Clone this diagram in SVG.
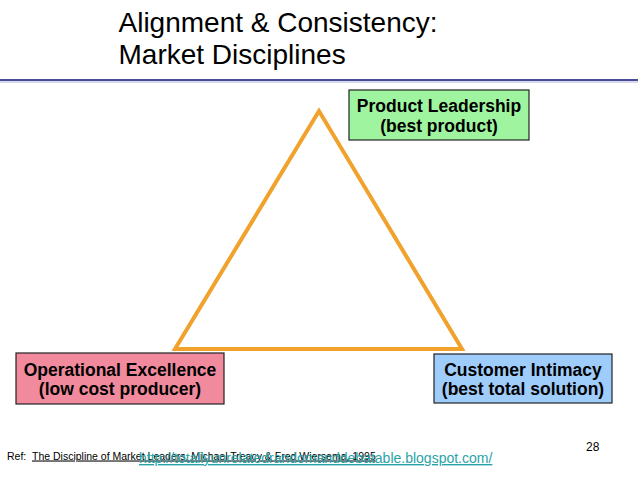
<svg xmlns="http://www.w3.org/2000/svg" width="638" height="479" viewBox="0 0 638 479">
<style>
.title{font-family:"Liberation Sans",Arial,sans-serif;font-size:28px;fill:#000}
.box{stroke:#222;stroke-width:1.2}
.lbl{font-family:"Liberation Sans",Arial,sans-serif;font-size:17.5px;font-weight:bold;fill:#000;text-anchor:middle}
.small{font-family:"Liberation Sans",Arial,sans-serif;font-size:10.5px;fill:#000}
.url{font-family:"Liberation Sans",Arial,sans-serif;font-size:14px;fill:#2aa3a8;text-decoration:underline}
</style>
<rect width="638" height="479" fill="#ffffff"/>
<g id="title">
<text class="title" x="118.5" y="32">Alignment &amp; Consistency:</text>
<text class="title" x="118.5" y="64">Market Disciplines</text>
</g>
<g id="rule">
<line x1="0" y1="80" x2="638" y2="80" stroke="#4a4a96" stroke-width="2"/>
<line x1="0" y1="82" x2="638" y2="82" stroke="#c9cbe4" stroke-width="1.5"/>
</g>
<g id="connectors">
<polygon points="319,111 175,349 462,349" fill="none" stroke="#f0a22c" stroke-width="4" stroke-linejoin="miter"/>
</g>
<g id="product-leadership">
<rect class="box" x="349" y="90" width="180" height="50" fill="#9ff59f"/>
<text class="lbl" x="439" y="111.5">Product Leadership</text>
<text class="lbl" x="439" y="131.5">(best product)</text>
</g>
<g id="operational-excellence">
<rect class="box" x="16" y="353" width="208" height="51" fill="#f08a9c"/>
<text class="lbl" x="120" y="375.5">Operational Excellence</text>
<text class="lbl" x="120" y="395">(low cost producer)</text>
</g>
<g id="customer-intimacy">
<rect class="box" x="434" y="354" width="178" height="49" fill="#9fcdfb"/>
<text class="lbl" x="523" y="375.5">Customer Intimacy</text>
<text class="lbl" x="523" y="395">(best total solution)</text>
</g>
<g id="footer">
<text class="small" x="586" y="450.5" style="font-size:12px">28</text>
<text class="small" x="7" y="459.5">Ref:</text>
<text class="small" x="32" y="459.5" text-decoration="underline">The Discipline of Market Leaders, Michael Treacy &amp; Fred Wiersema, 1995</text>
<text class="url" x="139" y="463">http://totallyunrelatedrandomanddebatable.blogspot.com/</text>
</g>
</svg>
